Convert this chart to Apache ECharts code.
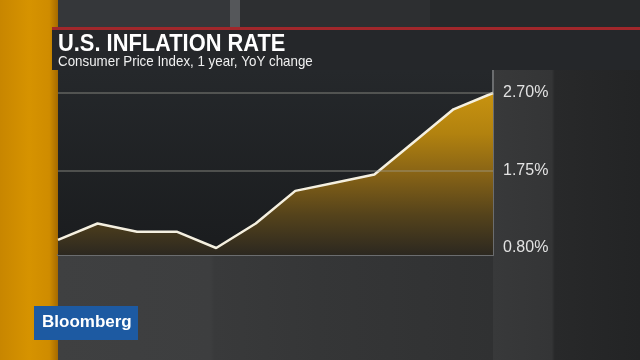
<!DOCTYPE html>
<html>
<head>
<meta charset="utf-8">
<script src="https://cdn.jsdelivr.net/npm/echarts@6/dist/echarts.min.js"></script>
<style>
html,body{margin:0;padding:0;background:#2c2d2f;}
#chart{width:640px;height:360px;}
</style>
</head>
<body>
<div id="chart"></div>
<script>
// Data (US CPI YoY, monthly)
var months = ['Mar 2016','Apr 2016','May 2016','Jun 2016','Jul 2016','Aug 2016','Sep 2016','Oct 2016','Nov 2016','Dec 2016','Jan 2017','Feb 2017'];
var cpiYoY = [0.9, 1.1, 1.0, 1.0, 0.8, 1.1, 1.5, 1.6, 1.7, 2.1, 2.5, 2.7];
var yTickValues = [0.80, 1.75, 2.70];
var titleText = 'U.S. INFLATION RATE';
var subtitleText = 'Consumer Price Index, 1 year, YoY change';
var brandText = 'Bloomberg';

var chart = echarts.init(document.getElementById('chart'), null, {renderer:'canvas'});

function rect(x,y,w,h,fill,z){
  return {type:'rect', shape:{x:x,y:y,width:w,height:h}, style:{fill:fill}, z:z||0, silent:true};
}
function hgrad(stops){
  return new echarts.graphic.LinearGradient(0,0,1,0,stops);
}
function vgrad(stops){
  return new echarts.graphic.LinearGradient(0,0,0,1,stops);
}

var bg = [
  // top strip background
  rect(0,0,640,28,'#2e3032',-10),
  rect(58,0,172,28,'#35373a',-9),
  rect(230,0,10,28,'#55575a',-9),
  rect(240,0,190,28,'#2d2f31',-9),
  rect(430,0,210,28,'#27292b',-9),
  // right panel
  rect(493,70,147,290,hgrad([{offset:0,color:'#38393a'},{offset:0.4,color:'#343536'},{offset:0.42,color:'#28292a'},{offset:1,color:'#232425'}]),-9),
  // bottom area
  rect(58,255,435,105,hgrad([{offset:0,color:'#3f4041'},{offset:0.35,color:'#3d3e3f'},{offset:0.36,color:'#393a3b'},{offset:0.6,color:'#353637'},{offset:1,color:'#303132'}]),-9),
  // orange strip
  rect(0,0,58,360,hgrad([{offset:0,color:'#c88600'},{offset:0.5,color:'#d69300'},{offset:0.85,color:'#cf8c00'},{offset:1,color:'#a56a00'}]),-8),
  // red line
  rect(52,27,588,3,'#a1272b',5),
  // title box
  rect(52,30,588,40,'#25272a',5),
  {type:'text', x:58, y:33, scaleX:0.95, z:6, silent:true,
    style:{text:titleText, fill:'#ffffff', font:'bold 23px "Liberation Sans", Arial, sans-serif'}},
  {type:'text', x:58, y:54, scaleX:0.89, z:6, silent:true,
    style:{text:subtitleText, fill:'#f0f0f0', font:'15px "Liberation Sans", Arial, sans-serif'}},
  // brand box
  rect(34,306,104,34,'#1d5aa2',6),
  {type:'text', x:42, y:314, z:7, silent:true,
    style:{text:brandText, fill:'#ffffff', font:'bold 17px "Liberation Sans", Arial, sans-serif'}}
];

var option = {
  backgroundColor:'transparent',
  animation:false,
  graphic: bg,
  grid:{left:58, right:147, top:70, bottom:105, show:true, borderWidth:0,
    backgroundColor: vgrad([{offset:0,color:'#25282b'},{offset:1,color:'#1a1c1e'}])},
  xAxis:{type:'category', data:months, boundaryGap:false,
    axisLine:{show:true, lineStyle:{color:'#6b6d6f', width:2}},
    axisTick:{show:false}, axisLabel:{show:false}, splitLine:{show:false}},
  yAxis:{type:'value', position:'right', min:0.714, max:2.982,
    axisLine:{show:true, lineStyle:{color:'#6b6d6f', width:2}},
    axisTick:{show:false}, splitLine:{show:false},
    axisLabel:{show:true, margin:10, color:'#e2e2e2',
      fontFamily:'"Liberation Sans", Arial, sans-serif', fontSize:16,
      customValues: yTickValues,
      formatter:function(v){return v.toFixed(2)+'%';}}
  },
  series:[{
    type:'line', data:cpiYoY, symbol:'none', smooth:false,
    lineStyle:{color:'#f5f0e0', width:2.5},
    areaStyle:{opacity:1, color: vgrad([{offset:0,color:'#c89310'},{offset:0.25,color:'#b2820f'},{offset:0.5,color:'#876316'},{offset:0.75,color:'#55431b'},{offset:1,color:'#2c2820'}])},
    markLine:{silent:true, symbol:'none', label:{show:false},
      lineStyle:{color:'rgba(160,160,150,0.5)', width:1.5, type:'solid'},
      data:[{yAxis:yTickValues[2]},{yAxis:yTickValues[1]}]}
  }]
};
chart.setOption(option);
</script>
</body>
</html>
